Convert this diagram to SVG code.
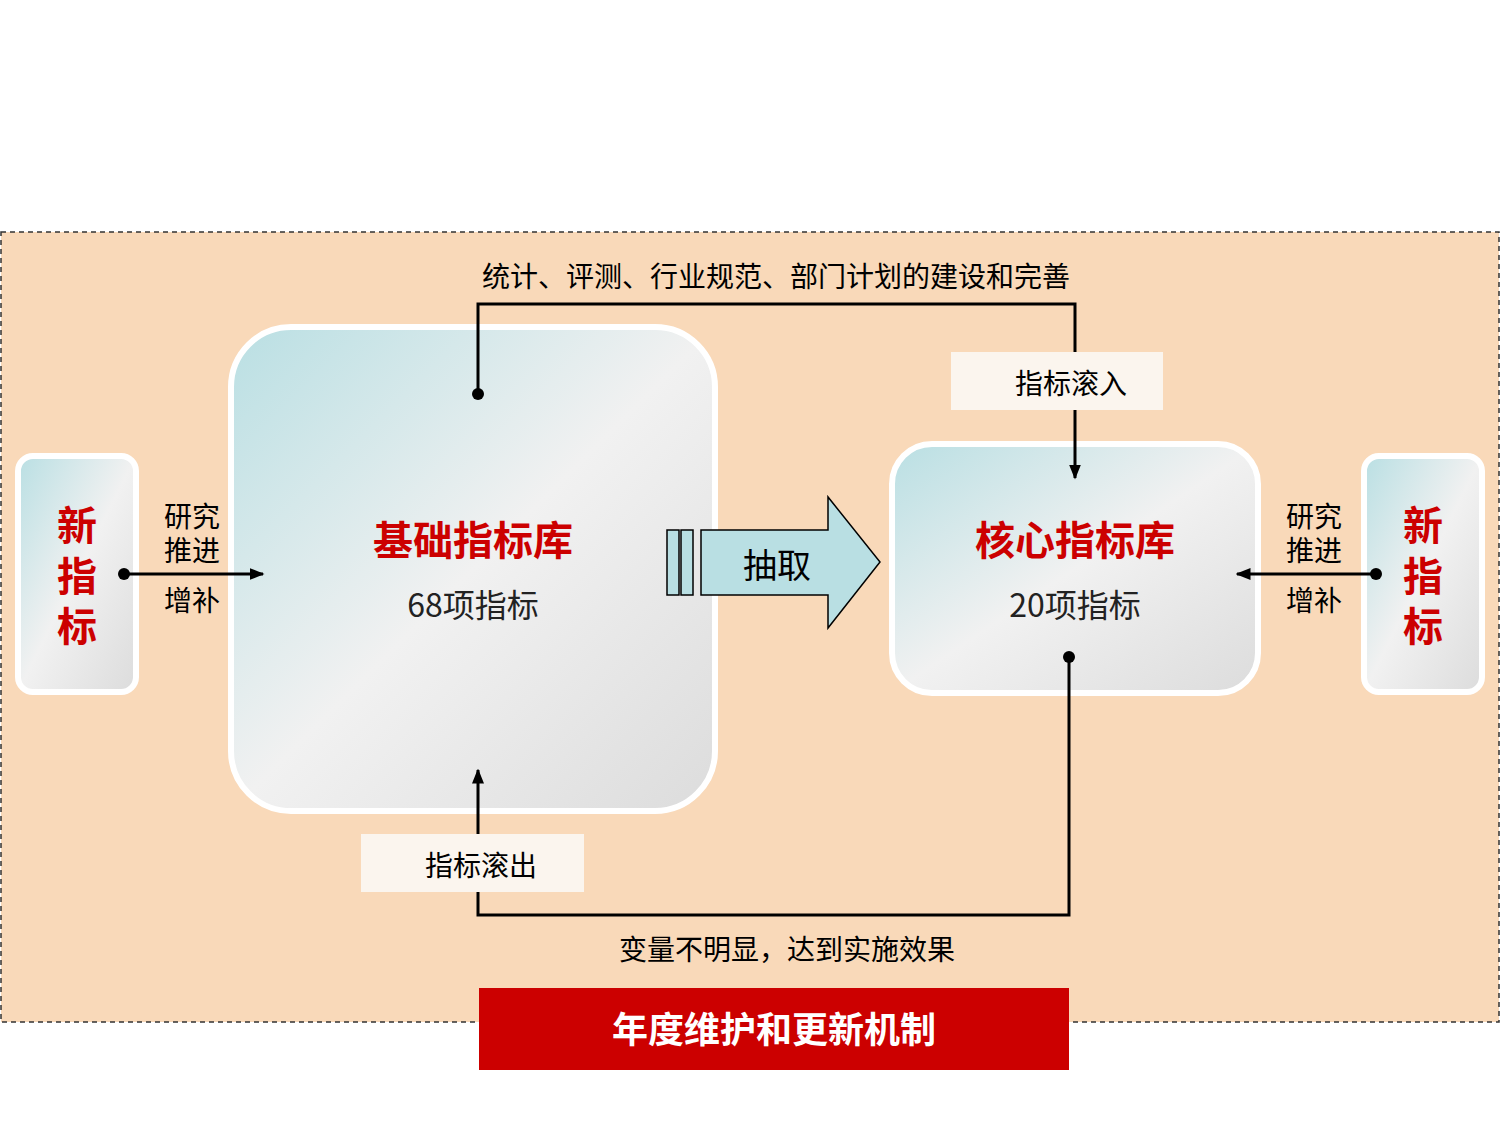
<svg xmlns="http://www.w3.org/2000/svg" width="1500" height="1125" viewBox="0 0 1500 1125">
<defs>
<linearGradient id="g" x1="0" y1="0" x2="1" y2="1"><stop offset="0" stop-color="#B9DFE3"/><stop offset="0.5" stop-color="#F1F1F1"/><stop offset="1" stop-color="#DCDCDC"/></linearGradient>
<marker id="ah" viewBox="0 0 10 10" refX="9" refY="5" markerWidth="5" markerHeight="5" orient="auto"><path d="M0,1 L10,5 L0,9 z" fill="#000"/></marker>
<style>
.n{fill:url(#g);stroke:#fff;stroke-width:6}
.t{font-family:"Noto Sans CJK SC","Noto Sans CJK SC",sans-serif}
.red{fill:#CC0000;font-weight:bold}
.ln{fill:none;stroke:#000;stroke-width:3}
.lb{fill:#FBF5EE}
</style>
</defs>
<rect width="1500" height="1125" fill="#fff"/>
<rect x="1" y="232" width="1498" height="790" fill="#F9D9B9" stroke="#333" stroke-width="1.5" stroke-dasharray="5,4"/>
<g id="new-left"><rect class="n" x="18" y="456" width="118" height="236" rx="15"/>
<text class="t red" x="77" y="540" font-size="40" text-anchor="middle">新</text><text class="t red" x="77" y="591" font-size="40" text-anchor="middle">指</text><text class="t red" x="77" y="641" font-size="40" text-anchor="middle">标</text></g>
<g id="base"><rect class="n" x="231" y="327" width="484" height="484" rx="60"/>
<text class="t red" x="473" y="555" font-size="40" text-anchor="middle">基础指标库</text>
<text class="t" x="473" y="617" font-size="32" text-anchor="middle" fill="#222">68项指标</text></g>
<g id="core"><rect class="n" x="892" y="444" width="366" height="249" rx="40"/>
<text class="t red" x="1075" y="555" font-size="40" text-anchor="middle">核心指标库</text>
<text class="t" x="1075" y="617" font-size="32" text-anchor="middle" fill="#222">20项指标</text></g>
<g id="new-right"><rect class="n" x="1364" y="456" width="118" height="236" rx="15"/>
<text class="t red" x="1423" y="540" font-size="40" text-anchor="middle">新</text><text class="t red" x="1423" y="591" font-size="40" text-anchor="middle">指</text><text class="t red" x="1423" y="641" font-size="40" text-anchor="middle">标</text></g>
<g id="extract" stroke="#000" stroke-width="1.5" fill="#B9DFE3">
<rect x="667" y="530" width="12" height="65"/><rect x="681" y="530" width="12" height="65"/>
<path d="M701,530 H828 V497 L880,562 L828,628 V595 H701 Z"/>
<text class="t" x="777" y="578" font-size="34" text-anchor="middle" fill="#000" stroke="none">抽取</text></g>
<g id="connectors">
<path class="ln" d="M478,394 V304 H1075 V478" marker-end="url(#ah)"/>
<circle cx="478" cy="394" r="6"/>
<path class="ln" d="M1069,657 V915 H478 V770" marker-end="url(#ah)"/>
<circle cx="1069" cy="657" r="6"/>
<path class="ln" d="M124,574 H263" marker-end="url(#ah)"/><circle cx="124" cy="574" r="6"/>
<path class="ln" d="M1376,574 H1237" marker-end="url(#ah)"/><circle cx="1376" cy="574" r="6"/>
</g>
<g id="labels" class="t" font-size="28" fill="#000">
<text x="776" y="287" text-anchor="middle">统计、评测、行业规范、部门计划的建设和完善</text>
<rect class="lb" x="951" y="352" width="212" height="58"/>
<text x="1071" y="394" text-anchor="middle">指标滚入</text>
<rect class="lb" x="361" y="834" width="223" height="58"/>
<text x="481" y="876" text-anchor="middle">指标滚出</text>
<text x="787" y="960" text-anchor="middle">变量不明显，达到实施效果</text>
<text x="192" y="527" text-anchor="middle">研究</text><text x="192" y="561" text-anchor="middle">推进</text><text x="192" y="611" text-anchor="middle">增补</text>
<text x="1314" y="527" text-anchor="middle">研究</text><text x="1314" y="561" text-anchor="middle">推进</text><text x="1314" y="611" text-anchor="middle">增补</text>
</g>
<g id="banner"><rect x="479" y="988" width="590" height="82" fill="#CC0000"/>
<text class="t" x="774" y="1043" font-size="36" font-weight="bold" fill="#fff" text-anchor="middle">年度维护和更新机制</text></g>
</svg>
